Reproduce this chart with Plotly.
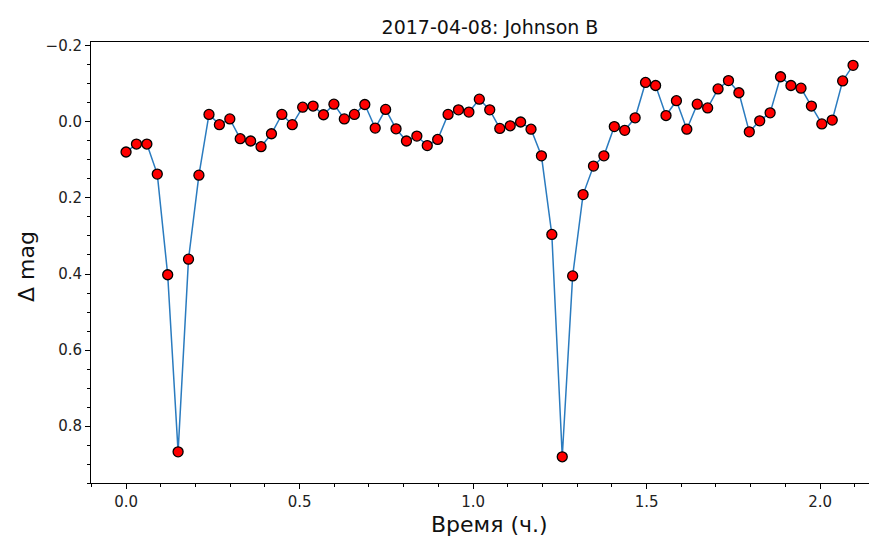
import plotly.graph_objects as go

time_h = [0.000, 0.030, 0.060, 0.090, 0.120, 0.150, 0.180, 0.210, 0.239, 0.269,
          0.299, 0.329, 0.359, 0.389, 0.419, 0.449, 0.479, 0.509, 0.539, 0.569,
          0.599, 0.629, 0.658, 0.688, 0.718, 0.748, 0.778, 0.808, 0.838, 0.868,
          0.898, 0.928, 0.958, 0.988, 1.018, 1.048, 1.077, 1.107, 1.137, 1.167,
          1.197, 1.227, 1.257, 1.287, 1.317, 1.347, 1.377, 1.407, 1.437, 1.467,
          1.497, 1.526, 1.556, 1.586, 1.616, 1.646, 1.676, 1.706, 1.736, 1.766,
          1.796, 1.826, 1.856, 1.886, 1.916, 1.945, 1.975, 2.005, 2.035, 2.065,
          2.095]

delta_mag = [0.079, 0.058, 0.058, 0.137, 0.402, 0.868, 0.361, 0.140, -0.020, 0.007,
             -0.008, 0.044, 0.050, 0.065, 0.031, -0.020, 0.007, -0.039, -0.042, -0.019,
             -0.047, -0.008, -0.020, -0.046, 0.016, -0.033, 0.018, 0.050, 0.037, 0.062,
             0.046, -0.020, -0.032, -0.026, -0.060, -0.032, 0.017, 0.010, 0.000, 0.019,
             0.089, 0.296, 0.881, 0.405, 0.191, 0.116, 0.089, 0.012, 0.022, -0.011,
             -0.104, -0.096, -0.017, -0.056, 0.019, -0.047, -0.037, -0.087, -0.109, -0.077,
             0.026, -0.003, -0.024, -0.119, -0.096, -0.089, -0.042, 0.005, -0.005, -0.108,
             -0.149]

x_ticks = [0.0, 0.5, 1.0, 1.5, 2.0]
y_ticks = [-0.2, 0.0, 0.2, 0.4, 0.6, 0.8]

title_text = "2017-04-08: Johnson B"
x_title = "Время (ч.)"
y_title = "Δ mag"

FONT = "DejaVu Sans"
OFF = 8  # page body margin
W, H = 877 - OFF, 536 - OFF
L, T, B = 91 - OFF, 42 - OFF, H - (483 - OFF)
PW, PH = W - L, H - T - B

fig = go.Figure()
fig.add_trace(go.Scatter(
    x=time_h, y=delta_mag, mode="lines+markers",
    line=dict(color="#2a7bbf", width=1.5),
    marker=dict(color="#ff0000", size=10, line=dict(color="#000000", width=1.3)),
    showlegend=False,
))

fig.update_layout(
    width=W, height=H,
    margin=dict(l=L, r=0, t=T, b=B, pad=0),
    plot_bgcolor="white", paper_bgcolor="white",
    font=dict(family=FONT, size=15, color="#222222"),
    title=dict(text=title_text, x=(490 - OFF) / W, xref="container", xanchor="center",
               y=1 - (27 - OFF) / H, yref="container", yanchor="middle",
               font=dict(family=FONT, size=19, color="#111111")),
    xaxis=dict(range=[-0.101, 2.164], tickvals=x_ticks, tickformat=".1f",
               showgrid=False, zeroline=False, showline=True, linecolor="black",
               linewidth=1, mirror=True, ticks="outside", ticklen=5, tickwidth=1,
               tickcolor="black",
               minor=dict(dtick=0.1, tick0=0, ticks="outside", ticklen=3,
                          tickcolor="black", showgrid=False)),
    yaxis=dict(range=[0.95, -0.2105], tickvals=y_ticks, tickformat=".1f",
               showgrid=False, zeroline=False, showline=True, linecolor="black",
               linewidth=1, ticks="outside", ticklen=5, tickwidth=1,
               tickcolor="black",
               minor=dict(dtick=0.05, tick0=0, ticks="outside", ticklen=3,
                          tickcolor="black", showgrid=False)),
    annotations=[
        dict(text=x_title, xref="paper", yref="paper", x=(489 - 91) / PW,
             y=-(524 - 483) / PH, xanchor="center", yanchor="middle",
             showarrow=False, font=dict(family=FONT, size=22, color="#111111")),
        dict(text=y_title, xref="paper", yref="paper", x=-(91 - 26) / PW,
             y=(483 - 267) / PH, xanchor="center", yanchor="middle",
             textangle=-90, showarrow=False,
             font=dict(family=FONT, size=22, color="#111111")),
    ],
)

fig.write_html("out.html")
